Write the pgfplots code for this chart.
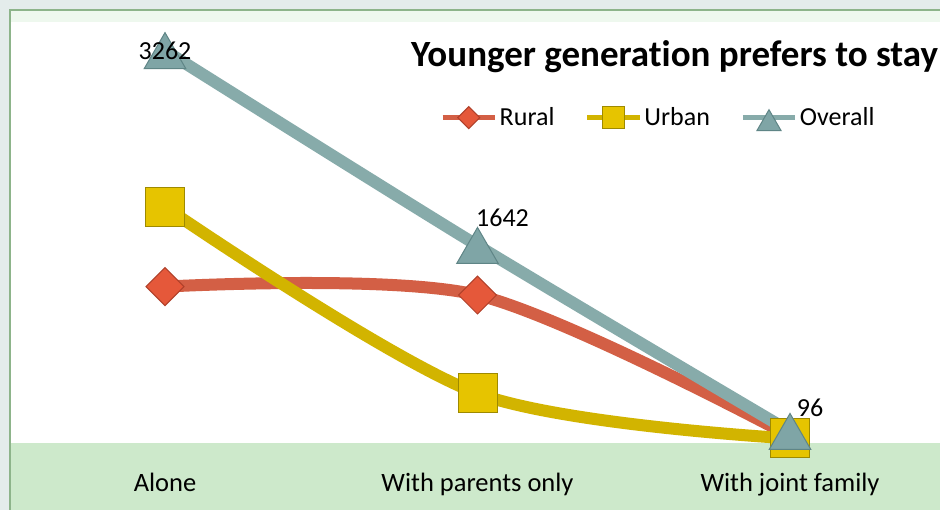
\documentclass[border=0pt]{standalone}
\usepackage{pgfplots}
\pgfplotsset{compat=1.18}
\usepackage{fontspec}
\setmainfont{Carlito}
\newfontfamily\titlefont[Ligatures=CommonOff]{Carlito}
\definecolor{outerbg}{HTML}{E4ECEB}
\definecolor{bordergreen}{HTML}{8DB48A}
\definecolor{stripgreen}{HTML}{EEF8EE}
\definecolor{bandgreen}{HTML}{CDE9CB}
\definecolor{ruralline}{HTML}{D35F45}
\definecolor{ruralfill}{HTML}{E5583A}
\definecolor{ruraledge}{HTML}{B0402A}
\definecolor{urbanline}{HTML}{D2B400}
\definecolor{urbanfill}{HTML}{E6C400}
\definecolor{urbanedge}{HTML}{9E8A00}
\definecolor{overline}{HTML}{87ABAA}
\definecolor{overfill}{HTML}{7FA5A6}
\definecolor{overedge}{HTML}{5F8586}
\begin{document}
\begin{tikzpicture}[x=1bp,y=1bp]
\useasboundingbox (0,0) rectangle (940,510);
\clip (0,0) rectangle (940,510);
\fill[outerbg] (0,0) rectangle (940,510);
\fill[stripgreen] (10,488) rectangle (940,500);
\fill[white] (10,67) rectangle (940,488);
\fill[bandgreen] (10,0) rectangle (940,67);
\draw[bordergreen, line width=2bp] (10,0) -- (10,500) -- (940,500);
\node[anchor=base west, inner sep=0pt, font=\titlefont\fontsize{37bp}{42bp}\selectfont\bfseries] at (411,443) {Younger generation prefers to stay};
\begin{axis}[
  at={(10bp,67bp)}, anchor=south west,
  scale only axis, width=930bp, height=421bp,
  xmin=-0.496, xmax=2.48, ymin=0, ymax=3500,
  axis line style={draw=none},
  ytick=\empty,
  xtick={0,1,2},
  xticklabels={Alone, With parents only, With joint family},
  major tick length=0pt,
  xticklabel style={anchor=base, yshift=-49bp, inner sep=0pt, font=\fontsize{26.5bp}{30bp}\selectfont},
  clip=false,
  smooth, tension=0.5,
  legend columns=3,
  legend style={draw=none, fill=none, at={(0.4624,0.772)}, anchor=west,
    inner xsep=0pt, inner ysep=0pt,
    font=\fontsize{26bp}{30bp}\selectfont,
    nodes={inner sep=2.5bp},
    /tikz/every even column/.append style={column sep=28bp}},
  legend image code/.code={
    \draw[mark repeat=2, mark phase=2, #1, line width=5bp, every mark/.append style={scale=0.58}]
      plot coordinates {(0bp,0bp) (26bp,0bp) (52bp,0bp)};
  },
]
\addplot[ruralline, line width=12bp, mark=square*, mark size=13.4bp,
  mark options={rotate=45, fill=ruralfill, draw=ruraledge, line width=1bp}]
  coordinates {(0,1300) (1,1230) (2,58)};
\addlegendentry{Rural}
\addplot[urbanline, line width=12bp, mark=square*, mark size=19.5bp,
  mark options={fill=urbanfill, draw=urbanedge, line width=1bp}]
  coordinates {(0,1962) (1,412) (2,38)};
\addlegendentry{Urban}
\addplot[overline, line width=12bp, mark=triangle*, mark size=24bp,
  mark options={yshift=-6bp, fill=overfill, draw=overedge, line width=1bp}]
  coordinates {(0,3262) (1,1642) (2,96)};
\addlegendentry{Overall}
\coordinate (l0) at (axis cs:0,3262);
\coordinate (l1) at (axis cs:1,1642);
\coordinate (l2) at (axis cs:2,96);
\end{axis}
\node[font=\fontsize{26bp}{30bp}\selectfont, inner sep=0pt] at (l0) {3262};
\node[font=\fontsize{26bp}{30bp}\selectfont, inner sep=0pt, xshift=25bp, yshift=28bp] at (l1) {1642};
\node[font=\fontsize{26bp}{30bp}\selectfont, inner sep=0pt, xshift=20bp, yshift=24bp] at (l2) {96};
\end{tikzpicture}
\end{document}
